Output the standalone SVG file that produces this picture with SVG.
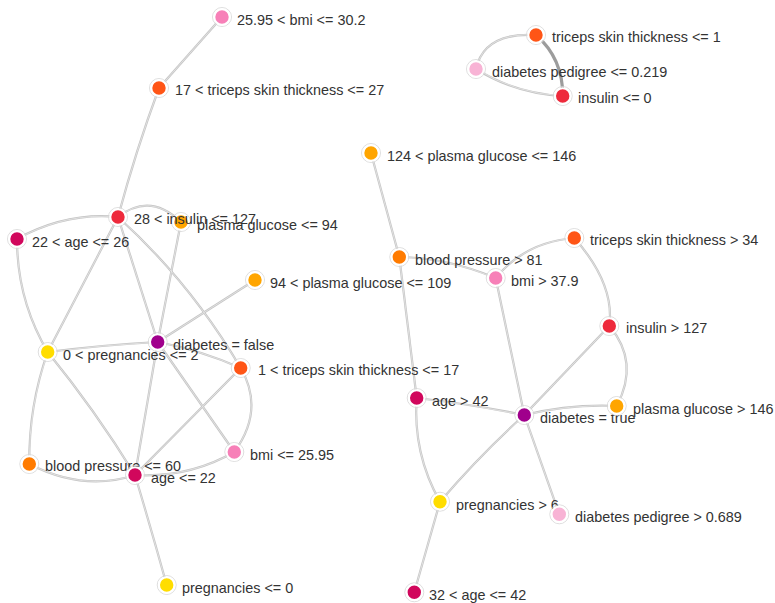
<svg xmlns="http://www.w3.org/2000/svg" width="775" height="603" viewBox="0 0 775 603">
<style>
.e{fill:none;stroke:#c4c4c4;stroke-width:2.2}
.ei{fill:none;stroke:#ececec;stroke-width:0.7}
.heavy{fill:none;stroke:#9c9c9c;stroke-width:3.2}
.ring{fill:none;stroke:#d6d6d6;stroke-width:0.8}
.n{stroke:#fff;stroke-width:2}
text{font-family:"Liberation Sans",Arial,Helvetica,sans-serif;font-size:14.4px;fill:#333}
.bmi{fill:#f780b8}.tri{fill:#ff5516}.ped{fill:#f8b3d5}.ins{fill:#ee2a3c}.glu{fill:#ffa500}.age{fill:#d1075c}.preg{fill:#ffdd00}.bp{fill:#ff7b00}.dia{fill:#a0008c}
</style>
<defs>
<g id="edges-def">
<path d="M222,17 L159,88"/>
<path d="M159,88 Q136,150 118,217"/>
<path d="M118,217 Q66,212 17,239"/>
<path d="M118,217 Q150,192 181,222"/>
<path d="M118,217 L47.7,352"/>
<path d="M118,217 L157.7,342"/>
<path d="M118,217 Q190,282 240.7,368"/>
<path d="M181,222 L157.7,342"/>
<path d="M17,239 Q17,300 47.7,352"/>
<path d="M255,280 L157.7,342"/>
<path d="M157.7,342 Q102,345 47.7,352"/>
<path d="M157.7,342 Q200,350 240.7,368"/>
<path d="M157.7,342 L135,475"/>
<path d="M157.7,342 L234.3,452"/>
<path d="M47.7,352 Q28.6,406 29.3,464"/>
<path d="M47.7,352 Q95,410 135,475"/>
<path d="M240.7,368 L135,475"/>
<path d="M240.7,368 Q265,410 234.3,452"/>
<path d="M29.3,464 Q84,492 135,475"/>
<path d="M135,475 Q189,478 234.3,452"/>
<path d="M135,475 Q152,532 166.7,585"/>
<path d="M536,35 Q484,32 476,69"/>
<path d="M476,69 Q515,93.5 562.7,96"/>
<path d="M371,153 L399.3,257"/>
<path d="M399.3,257 Q446.5,257.5 495.7,278"/>
<path d="M399.3,257 L416.7,398"/>
<path d="M495.7,278 Q525,242 574.3,238"/>
<path d="M495.7,278 L524.3,415"/>
<path d="M574.3,238 Q615,284 609.3,326"/>
<path d="M609.3,326 L524.3,415"/>
<path d="M609.3,326 Q640,362 616.7,406"/>
<path d="M616.7,406 Q570,404 524.3,415"/>
<path d="M416.7,398 Q470,404 524.3,415"/>
<path d="M416.7,398 Q412.7,453.5 440,501.7"/>
<path d="M524.3,415 Q480,455 440,501.7"/>
<path d="M524.3,415 L559.3,514.3"/>
<path d="M440,501.7 L414.3,592.3"/>
</g>
</defs>
<g id="connectors">
<use href="#edges-def" class="e"/>
<use href="#edges-def" class="ei"/>
<path class="heavy" d="M536,35 Q563,58.5 562.7,96"/>
</g>
<g id="n-bmi-25-30"><circle class="ring" cx="222" cy="17" r="9.5"/><circle class="n bmi" cx="222" cy="17" r="7.7"/><text x="237" y="25">25.95 &lt; bmi &lt;= 30.2</text></g>
<g id="n-tri-17-27"><circle class="ring" cx="159" cy="88" r="9.5"/><circle class="n tri" cx="159" cy="88" r="7.7"/><text x="175" y="95">17 &lt; triceps skin thickness &lt;= 27</text></g>
<g id="n-tri-le1"><circle class="ring" cx="536" cy="35" r="9.5"/><circle class="n tri" cx="536" cy="35" r="7.7"/><text x="552" y="42">triceps skin thickness &lt;= 1</text></g>
<g id="n-ped-le0219"><circle class="ring" cx="476" cy="69" r="9.5"/><circle class="n ped" cx="476" cy="69" r="7.7"/><text x="492" y="77">diabetes pedigree &lt;= 0.219</text></g>
<g id="n-ins-le0"><circle class="ring" cx="562.7" cy="96" r="9.5"/><circle class="n ins" cx="562.7" cy="96" r="7.7"/><text x="578" y="103">insulin &lt;= 0</text></g>
<g id="n-glu-124-146"><circle class="ring" cx="371" cy="153" r="9.5"/><circle class="n glu" cx="371" cy="153" r="7.7"/><text x="387" y="161">124 &lt; plasma glucose &lt;= 146</text></g>
<g id="n-age-22-26"><circle class="ring" cx="17" cy="239" r="9.5"/><circle class="n age" cx="17" cy="239" r="7.7"/><text x="32" y="247">22 &lt; age &lt;= 26</text></g>
<g id="n-glu-le94"><circle class="ring" cx="181" cy="222" r="9.5"/><circle class="n glu" cx="181" cy="222" r="7.7"/><text x="197" y="230">plasma glucose &lt;= 94</text></g>
<g id="n-ins-28-127"><circle class="ring" cx="118" cy="217" r="9.5"/><circle class="n ins" cx="118" cy="217" r="7.7"/><text x="134" y="224">28 &lt; insulin &lt;= 127</text></g>
<g id="n-glu-94-109"><circle class="ring" cx="255" cy="280" r="9.5"/><circle class="n glu" cx="255" cy="280" r="7.7"/><text x="270" y="288">94 &lt; plasma glucose &lt;= 109</text></g>
<g id="n-preg-0-2"><circle class="ring" cx="47.7" cy="352" r="9.5"/><circle class="n preg" cx="47.7" cy="352" r="7.7"/><text x="63" y="360">0 &lt; pregnancies &lt;= 2</text></g>
<g id="n-dia-false"><circle class="ring" cx="157.7" cy="342" r="9.5"/><circle class="n dia" cx="157.7" cy="342" r="7.7"/><text x="173" y="350">diabetes = false</text></g>
<g id="n-tri-1-17"><circle class="ring" cx="240.7" cy="368" r="9.5"/><circle class="n tri" cx="240.7" cy="368" r="7.7"/><text x="258" y="375">1 &lt; triceps skin thickness &lt;= 17</text></g>
<g id="n-bp-le60"><circle class="ring" cx="29.3" cy="464" r="9.5"/><circle class="n bp" cx="29.3" cy="464" r="7.7"/><text x="45" y="471">blood pressure &lt;= 60</text></g>
<g id="n-age-le22"><circle class="ring" cx="135" cy="475" r="9.5"/><circle class="n age" cx="135" cy="475" r="7.7"/><text x="151" y="483">age &lt;= 22</text></g>
<g id="n-bmi-le2595"><circle class="ring" cx="234.3" cy="452" r="9.5"/><circle class="n bmi" cx="234.3" cy="452" r="7.7"/><text x="250" y="460">bmi &lt;= 25.95</text></g>
<g id="n-preg-le0"><circle class="ring" cx="166.7" cy="585" r="9.5"/><circle class="n preg" cx="166.7" cy="585" r="7.7"/><text x="182" y="593">pregnancies &lt;= 0</text></g>
<g id="n-bp-gt81"><circle class="ring" cx="399.3" cy="257" r="9.5"/><circle class="n bp" cx="399.3" cy="257" r="7.7"/><text x="415" y="265">blood pressure &gt; 81</text></g>
<g id="n-bmi-gt379"><circle class="ring" cx="495.7" cy="278" r="9.5"/><circle class="n bmi" cx="495.7" cy="278" r="7.7"/><text x="511" y="286">bmi &gt; 37.9</text></g>
<g id="n-tri-gt34"><circle class="ring" cx="574.3" cy="238" r="9.5"/><circle class="n tri" cx="574.3" cy="238" r="7.7"/><text x="590" y="245">triceps skin thickness &gt; 34</text></g>
<g id="n-ins-gt127"><circle class="ring" cx="609.3" cy="326" r="9.5"/><circle class="n ins" cx="609.3" cy="326" r="7.7"/><text x="626" y="333">insulin &gt; 127</text></g>
<g id="n-age-gt42"><circle class="ring" cx="416.7" cy="398" r="9.5"/><circle class="n age" cx="416.7" cy="398" r="7.7"/><text x="432" y="406">age &gt; 42</text></g>
<g id="n-dia-true"><circle class="ring" cx="524.3" cy="415" r="9.5"/><circle class="n dia" cx="524.3" cy="415" r="7.7"/><text x="540" y="423">diabetes = true</text></g>
<g id="n-glu-gt146"><circle class="ring" cx="616.7" cy="406" r="9.5"/><circle class="n glu" cx="616.7" cy="406" r="7.7"/><text x="633" y="414">plasma glucose &gt; 146</text></g>
<g id="n-preg-gt6"><circle class="ring" cx="440" cy="501.7" r="9.5"/><circle class="n preg" cx="440" cy="501.7" r="7.7"/><text x="456" y="510">pregnancies &gt; 6</text></g>
<g id="n-ped-gt0689"><circle class="ring" cx="559.3" cy="514.3" r="9.5"/><circle class="n ped" cx="559.3" cy="514.3" r="7.7"/><text x="575" y="522">diabetes pedigree &gt; 0.689</text></g>
<g id="n-age-32-42"><circle class="ring" cx="414.3" cy="592.3" r="9.5"/><circle class="n age" cx="414.3" cy="592.3" r="7.7"/><text x="429" y="600">32 &lt; age &lt;= 42</text></g>
</svg>
